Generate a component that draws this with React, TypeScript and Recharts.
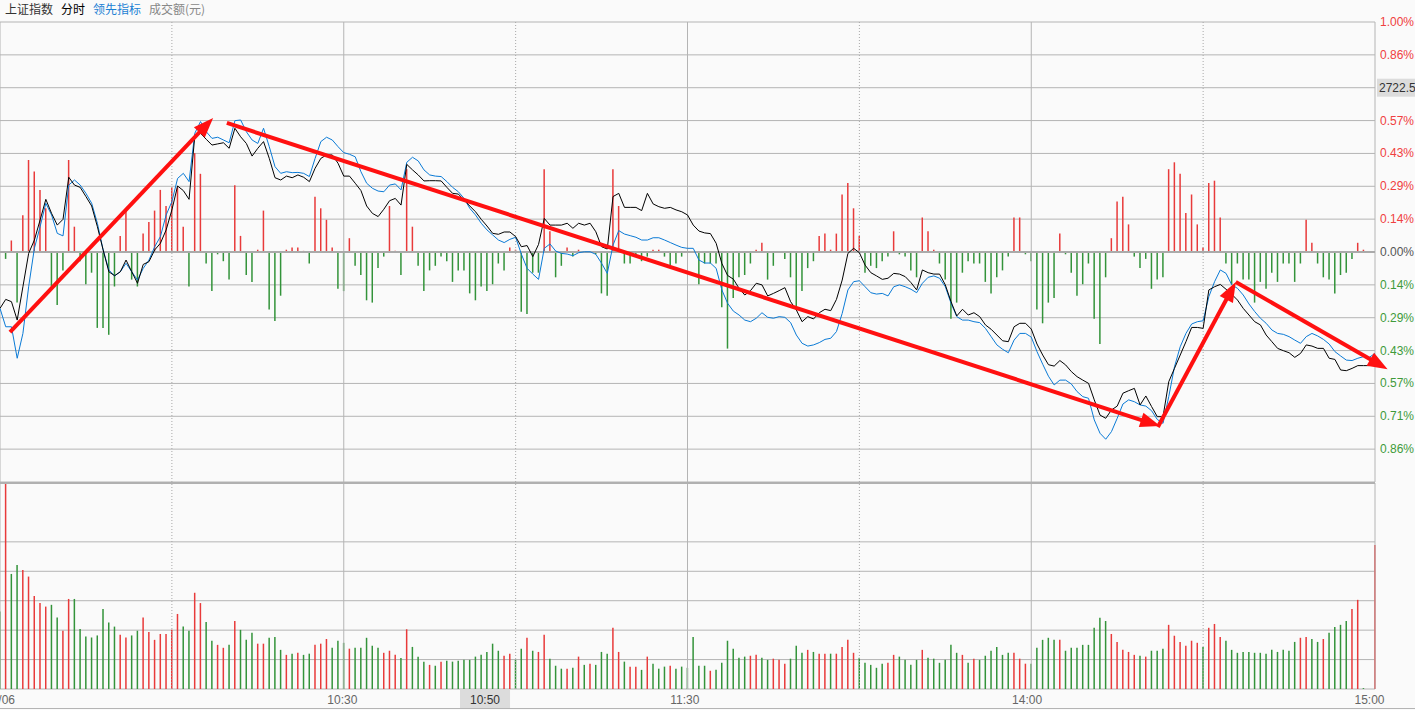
import React from 'react';
import {
    ComposedChart,
    BarChart,
    Bar,
    Line,
    XAxis,
    YAxis,
    CartesianGrid,
    ReferenceLine,
    Cell
} from 'recharts';

// price change vs previous close, in %, one point per minute (0 = 9:30, 240 = 15:00)
const price = [
    -0.245, -0.206, -0.216, -0.296, -0.151, -0.006, 0.052, 0.139, 0.229, 0.168,
    0.117, 0.142, 0.325, 0.291, 0.281, 0.241, 0.200, 0.110, 0.009, -0.086,
    -0.103, -0.086, -0.035, -0.086, -0.136, -0.054, -0.042, 0.009, 0.038, 0.096,
    0.183, 0.287, 0.267, 0.229, 0.504, 0.516, 0.490, 0.465, 0.470, 0.475,
    0.451, 0.538, 0.501, 0.472, 0.417, 0.451, 0.480, 0.407, 0.323, 0.313,
    0.330, 0.323, 0.335, 0.325, 0.306, 0.364, 0.407, 0.422, 0.422, 0.386,
    0.330, 0.330, 0.299, 0.267, 0.200, 0.168, 0.154, 0.186, 0.223, 0.233,
    0.204, 0.381, 0.357, 0.335, 0.309, 0.310, 0.310, 0.309, 0.281, 0.255,
    0.252, 0.226, 0.200, 0.175, 0.142, 0.113, 0.081, 0.077, 0.087, 0.087,
    0.067, 0.023, 0.028, -0.020, 0.033, 0.146, 0.117, 0.117, 0.117, 0.125,
    0.103, 0.125, 0.117, 0.125, 0.088, 0.023, 0.013, 0.241, 0.255, 0.194,
    0.194, 0.194, 0.180, 0.255, 0.209, 0.197, 0.190, 0.194, 0.183, 0.175,
    0.161, 0.117, 0.091, 0.083, 0.080, 0.038, -0.050, -0.102, -0.118, -0.158,
    -0.187, -0.168, -0.136, -0.143, -0.191, -0.180, -0.168, -0.155, -0.216, -0.252,
    -0.303, -0.281, -0.291, -0.264, -0.249, -0.255, -0.206, -0.122, -0.006, 0.016,
    -0.003, -0.057, -0.090, -0.104, -0.119, -0.114, -0.093, -0.096, -0.107, -0.133,
    -0.165, -0.078, -0.090, -0.096, -0.096, -0.143, -0.216, -0.278, -0.249, -0.274,
    -0.264, -0.281, -0.317, -0.336, -0.361, -0.386, -0.390, -0.325, -0.310, -0.310,
    -0.335, -0.400, -0.448, -0.490, -0.496, -0.472, -0.491, -0.520, -0.542, -0.557,
    -0.571, -0.643, -0.709, -0.723, -0.687, -0.670, -0.614, -0.603, -0.593, -0.665,
    -0.626, -0.672, -0.716, -0.716, -0.564, -0.506, -0.448, -0.390, -0.328, -0.328,
    -0.332, -0.165, -0.151, -0.141, -0.162, -0.184, -0.209, -0.245, -0.274, -0.303,
    -0.317, -0.361, -0.390, -0.419, -0.429, -0.438, -0.458, -0.441, -0.404, -0.409,
    -0.419, -0.419, -0.462, -0.467, -0.513, -0.516, -0.506, -0.494, -0.494, -0.494,
    -0.484
];

// 领先指标 (leading line), same units
const lead = [
    -0.245, -0.325, -0.325, -0.462, -0.354, -0.151, 0.016, 0.110, 0.212, 0.161,
    0.081, 0.070, 0.291, 0.313, 0.291, 0.255, 0.212, 0.125, 0.009, -0.078,
    -0.104, -0.086, -0.049, -0.086, -0.122, -0.071, -0.035, 0.023, 0.067, 0.161,
    0.219, 0.320, 0.342, 0.306, 0.516, 0.567, 0.523, 0.494, 0.499, 0.487,
    0.475, 0.571, 0.574, 0.523, 0.487, 0.472, 0.538, 0.458, 0.371, 0.342,
    0.349, 0.345, 0.346, 0.342, 0.328, 0.407, 0.480, 0.499, 0.487, 0.458,
    0.432, 0.425, 0.414, 0.349, 0.299, 0.277, 0.265, 0.262, 0.291, 0.296,
    0.270, 0.390, 0.412, 0.396, 0.357, 0.335, 0.330, 0.328, 0.306, 0.281,
    0.262, 0.233, 0.190, 0.161, 0.125, 0.096, 0.074, 0.052, 0.041, 0.055,
    0.064, -0.009, -0.071, -0.096, -0.119, 0.016, 0.035, 0.004, -0.006, -0.009,
    -0.016, -0.003, 0.001, 0.001, -0.010, -0.049, -0.093, 0.030, 0.093, 0.078,
    0.071, 0.064, 0.052, 0.052, 0.062, 0.062, 0.052, 0.041, 0.030, 0.020,
    0.016, 0.016, -0.035, -0.048, -0.048, -0.071, -0.165, -0.223, -0.257, -0.274,
    -0.296, -0.303, -0.288, -0.264, -0.284, -0.288, -0.281, -0.284, -0.307, -0.361,
    -0.397, -0.409, -0.404, -0.394, -0.380, -0.375, -0.346, -0.267, -0.165, -0.129,
    -0.125, -0.151, -0.177, -0.183, -0.180, -0.191, -0.151, -0.143, -0.151, -0.162,
    -0.177, -0.136, -0.110, -0.104, -0.114, -0.151, -0.223, -0.281, -0.296, -0.296,
    -0.303, -0.307, -0.332, -0.368, -0.404, -0.423, -0.438, -0.383, -0.354, -0.354,
    -0.370, -0.433, -0.488, -0.540, -0.578, -0.557, -0.557, -0.574, -0.607, -0.629,
    -0.636, -0.730, -0.788, -0.814, -0.781, -0.723, -0.661, -0.643, -0.651, -0.665,
    -0.670, -0.690, -0.728, -0.745, -0.629, -0.499, -0.412, -0.354, -0.313, -0.303,
    -0.299, -0.194, -0.129, -0.078, -0.093, -0.143, -0.158, -0.187, -0.226, -0.259,
    -0.288, -0.310, -0.339, -0.354, -0.358, -0.368, -0.383, -0.397, -0.368, -0.354,
    -0.365, -0.380, -0.400, -0.433, -0.452, -0.470, -0.472, -0.462, -0.455, -0.458,
    -0.441
];

// red/green bars around the zero line
const amp = [
    0, -0.03, 0.05, -0.22, 0.16, 0.40, 0.35, 0.27, 0.19, -0.15,
    -0.23, -0.08, 0.40, 0.11, -0.04, -0.14, -0.09, -0.33, -0.33, -0.36,
    -0.15, 0.07, 0.18, -0.12, -0.15, 0.08, 0.13, 0.18, 0.27, 0.20,
    0.28, 0.28, 0.11, -0.15, 0.43, 0.34, -0.05, -0.17, -0.01, -0.04,
    -0.12, 0.29, 0.07, -0.10, -0.13, 0.01, 0.18, -0.25, -0.30, -0.19,
    0.01, 0.02, 0.02, 0.005, -0.05, 0.24, 0.19, 0.14, 0.02, -0.16,
    -0.17, 0.06, -0.06, -0.10, -0.21, -0.22, -0.07, -0.02, 0.20, 0.005,
    -0.10, 0.36, 0.11, -0.06, -0.17, -0.08, -0.06, -0.02, -0.04, -0.13,
    -0.08, -0.08, -0.18, -0.21, -0.15, -0.17, -0.14, -0.05, -0.08, 0.02,
    0.01, -0.26, -0.27, -0.09, -0.09, 0.36, 0.09, -0.11, -0.06, 0.02,
    -0.02, 0.01, 0, 0, -0.01, -0.18, -0.19, 0.36, 0.20, -0.05,
    -0.05, -0.02, -0.04, -0.02, 0.01, 0.01, -0.02, -0.06, -0.05, -0.02,
    0, 0, -0.14, -0.05, -0.05, -0.05, -0.24, -0.42, -0.20, -0.11,
    -0.10, -0.05, 0.01, 0.04, -0.12, -0.06, 0, -0.03, -0.11, -0.24,
    -0.17, -0.07, -0.04, 0.07, 0.08, 0.01, 0.08, 0.25, 0.30, 0.19,
    0.07, -0.09, -0.06, -0.07, -0.04, -0.02, 0.09, -0.01, -0.02, -0.08,
    -0.11, 0.15, 0.09, 0.01, -0.05, -0.12, -0.29, -0.22, -0.09, -0.04,
    -0.05, -0.05, -0.13, -0.18, -0.11, -0.08, -0.02, 0.15, 0.15, -0.01,
    -0.04, -0.25, -0.31, -0.22, -0.20, 0.08, -0.01, -0.09, -0.19, -0.14,
    -0.05, -0.29, -0.40, -0.11, 0.06, 0.22, 0.24, 0.12, -0.02, -0.07,
    -0.03, -0.16, -0.12, -0.11, 0.36, 0.39, 0.34, 0.17, 0.25, 0.12,
    0.02, 0.30, 0.31, 0.15, -0.05, -0.14, -0.05, -0.12, -0.12, -0.22,
    -0.13, -0.16, -0.09, -0.13, -0.05, -0.05, -0.13, -0.05, 0.14, 0.04,
    -0.05, -0.11, -0.12, -0.18, -0.10, -0.09, -0.03, 0.04, 0.01, 0,
    0
];

// 成交额, in grid units of the lower panel (0..7)
const vol = [
    2.63, 7.0, 3.91, 4.21, 4.04, 3.82, 3.16, 2.92, 2.80, 2.86,
    2.43, 1.98, 3.06, 3.06, 2.04, 1.78, 1.75, 1.82, 2.72, 2.26,
    2.12, 1.84, 1.75, 1.82, 1.98, 2.43, 1.94, 1.67, 1.87, 1.87,
    2.01, 2.55, 2.12, 1.98, 3.27, 2.92, 2.28, 1.64, 1.50, 1.40,
    1.50, 2.31, 2.01, 1.67, 1.91, 1.54, 1.54, 1.74, 1.77, 1.33,
    1.16, 1.20, 1.23, 1.16, 1.20, 1.50, 1.54, 1.70, 1.40, 1.64,
    1.57, 1.37, 1.40, 1.40, 1.74, 1.47, 1.40, 1.23, 1.30, 1.16,
    1.05, 2.03, 1.43, 1.10, 0.93, 0.82, 0.79, 0.93, 0.96, 0.93,
    0.96, 0.99, 0.99, 1.10, 1.16, 1.26, 1.54, 1.30, 1.13, 1.20,
    0.99, 1.37, 1.74, 1.30, 1.26, 1.84, 1.03, 0.79, 0.69, 0.69,
    0.72, 1.10, 0.82, 0.86, 0.82, 1.26, 1.20, 2.08, 1.26, 0.93,
    0.76, 0.76, 0.65, 1.10, 0.86, 0.69, 0.76, 0.79, 0.69, 0.76,
    0.72, 1.77, 0.79, 0.79, 0.62, 0.65, 0.89, 1.64, 1.37, 1.06,
    1.10, 1.13, 1.16, 1.06, 0.99, 1.03, 0.99, 0.86, 1.03, 1.47,
    1.23, 1.33, 1.26, 1.20, 1.20, 1.20, 1.20, 1.43, 1.67, 1.23,
    1.06, 0.89, 0.82, 0.72, 0.86, 0.89, 1.16, 1.10, 0.99, 0.82,
    0.99, 1.33, 1.06, 1.03, 0.89, 0.99, 1.50, 1.23, 1.16, 0.89,
    1.03, 0.99, 1.13, 1.30, 1.43, 1.16, 1.23, 1.23, 1.03, 0.86,
    0.86, 1.40, 1.67, 1.74, 1.67, 1.67, 1.30, 1.40, 1.40, 1.50,
    1.50, 2.08, 2.42, 2.31, 1.87, 1.60, 1.33, 1.26, 1.16, 1.13,
    1.10, 1.30, 1.30, 1.37, 2.18, 1.81, 1.60, 1.47, 1.64, 1.57,
    1.43, 2.08, 2.21, 1.77, 1.64, 1.33, 1.23, 1.26, 1.26, 1.23,
    1.23, 1.20, 1.33, 1.26, 1.33, 1.30, 1.60, 1.74, 1.77, 1.70,
    1.60, 1.70, 1.91, 2.11, 2.18, 2.31, 2.72, 3.03, 0.03, 0,
    4.89
];

// r = up minute, g = down minute
const volDir =
    'grggrrrrrg' + 'grrggggggg' + 'grrggrrrrr' + 'rrggrrggrr' + 'grgggrrggg' +
    'rgrggrrrgg' + 'grgggggrrr' + 'grgggrgrgg' + 'ggggggggrr' + 'ggrgrrgggr' +
    'grgrgggrrg' + 'rrgrgggrgg' + 'ggggrggggg' + 'grrggrrrgg' + 'grgrrgrrrr' +
    'gggggrrggg' + 'grggggggrg' + 'rggggggrrr' + 'gggggrgggg' + 'ggggrrrrrg' +
    'rgggrrrrrr' + 'grrrgggggg' + 'gggggggrrg' + 'grggggrrgg' + 'r';

const pctTicks = [1, 0.8571, 0.7143, 0.5714, 0.4286, 0.2857, 0.1429, 0,
    -0.1429, -0.2857, -0.4286, -0.5714, -0.7143, -0.8571, -1];
const volTicks = [0, 1, 2, 3, 4, 5, 6, 7];
const timeTicks = [0, 60, 85, 120, 180, 240];
const timeLabels = ['01/06', '10:30', '10:50', '11:30', '14:00', '15:00'];
const solidLines = [0, 60, 120, 180, 240];
const dottedLines = [30, 90, 150, 210];

// crosshair labels shown on the axes
const crossTime = 85;
const crossPct = 0.7143;
const crossPrice = '2722.5';

// hand drawn trend arrows: [minute, pct]
const arrows = [
    { from: [1.75, -0.348], to: [37.2, 0.583] },
    { from: [39.6, 0.561], to: [202.5, -0.757] },
    { from: [202.1, -0.761], to: [215.7, -0.13] },
    { from: [215.7, -0.13], to: [242.2, -0.51] },
];

const RED = '#e83a3a';
const GREEN = '#33933a';
const BLUE = '#0a7ad6';
const GRID = '#b4b4b4';
const FONT = 'Arial, "Liberation Sans", "Noto Sans CJK SC", sans-serif';

const rows = price.map((p, i) => ({
    t: i,
    price: p,
    lead: lead[i],
    amp: amp[i],
    vol: vol[i],
    up: volDir[i] === 'r',
}));

const renderPctTick = (props: any) => {
    const { x, y, payload } = props;
    const v = payload.value;
    if (v <= -0.99) return <g />;
    if (v === crossPct) {
        return (
            <g>
                <rect x={x - 3} y={y - 9} width={40} height={18} fill="#dcdcdc" />
                <text x={x - 1} y={y + 4} fill="#333" fontSize={12}>{crossPrice}</text>
            </g>
        );
    }
    const fill = v > 0 ? '#f04040' : v < 0 ? '#3f9a3a' : '#555';
    return <text x={x} y={y + 4} fill={fill} fontSize={12}>{Math.abs(v).toFixed(2)}%</text>;
};

const renderTimeTick = (props: any) => {
    const { x, y, payload } = props;
    const label = timeLabels[timeTicks.indexOf(payload.value)];
    const cx = x * 0.996;
    if (payload.value === crossTime) {
        return (
            <g>
                <rect x={cx - 25} y={y + 1} width={50} height={18} fill="#dcdcdc" />
                <text x={cx} y={y + 15} textAnchor="middle" fill="#333" fontSize={12}>{label}</text>
            </g>
        );
    }
    return <text x={cx} y={y + 15} textAnchor="middle" fill="#666" fontSize={12}>{label}</text>;
};

const ArrowShape = (p: any) => {
    const { x1, y1, x2, y2 } = p;
    const dx = x2 - x1;
    const dy = y2 - y1;
    const len = Math.hypot(dx, dy);
    const ux = dx / len;
    const uy = dy / len;
    const hl = 20;
    const hw = 7.5;
    const bx = x2 - ux * hl;
    const by = y2 - uy * hl;
    return (
        <g>
            <line x1={x1} y1={y1} x2={bx + ux * 2} y2={by + uy * 2} stroke="#ff1010" strokeWidth={4} />
            <polygon
                points={`${x2},${y2} ${bx - uy * hw},${by + ux * hw} ${bx + uy * hw},${by - ux * hw}`}
                fill="#ff1010"
            />
        </g>
    );
};

const vLines = () => [
    ...dottedLines.map((x) => (
        <ReferenceLine key={`d${x}`} x={x} stroke="#a8a8a8" strokeDasharray="1 2" />
    )),
    ...solidLines.map((x) => <ReferenceLine key={`s${x}`} x={x} stroke={GRID} />),
];

const App: React.FC = () => {
    return (
        <div
            style={{
                position: 'fixed',
                left: 0,
                top: 0,
                width: 1415,
                height: 710,
                background: '#fafafa',
                overflow: 'hidden',
                fontFamily: FONT,
            }}
        >
            <div style={{ position: 'absolute', top: 2, left: 5, fontSize: 12, lineHeight: '14px', whiteSpace: 'nowrap', fontFamily: '"Noto Sans CJK SC", sans-serif' }}>
                <span style={{ color: '#333' }}>上证指数</span>
                <span style={{ color: '#000', marginLeft: 8 }}>分时</span>
                <span style={{ color: '#1a7fd4', marginLeft: 8 }}>领先指标</span>
                <span style={{ color: '#888', marginLeft: 8 }}>成交额(元)</span>
            </div>

            <div style={{ position: 'absolute', top: 0, left: 0 }}>
                <ComposedChart width={1415} height={490} data={rows} margin={{ top: 22, right: 0, bottom: 8, left: 0 }}>
                    <CartesianGrid vertical={false} stroke={GRID} />
                    <XAxis type="number" dataKey="t" domain={[0, 240]} hide />
                    <YAxis
                        orientation="right"
                        domain={[-1, 1]}
                        ticks={pctTicks}
                        interval={0}
                        width={40}
                        axisLine={false}
                        tickLine={false}
                        tickSize={0}
                        tickMargin={5}
                        tick={renderPctTick}
                    />
                    {vLines()}
                    <ReferenceLine y={0} stroke="#aaaaaa" strokeWidth={2} />
                    <Bar dataKey="amp" barSize={1.5} isAnimationActive={false}>
                        {rows.map((r, i) => (
                            <Cell key={`a-${i}`} fill={r.amp >= 0 ? RED : GREEN} />
                        ))}
                    </Bar>
                    <Line type="linear" dataKey="lead" stroke={BLUE} strokeWidth={1} dot={false} isAnimationActive={false} />
                    <Line type="linear" dataKey="price" stroke="#000" strokeWidth={1} dot={false} isAnimationActive={false} />
                    {arrows.map((a, i) => (
                        <ReferenceLine
                            key={`arrow-${i}`}
                            segment={[{ x: a.from[0], y: a.from[1] }, { x: a.to[0], y: a.to[1] }]}
                            ifOverflow="visible"
                            shape={ArrowShape}
                        />
                    ))}
                </ComposedChart>
            </div>

            <div style={{ position: 'absolute', top: 482, left: 0 }}>
                <BarChart width={1415} height={228} data={rows} margin={{ top: 1, right: 40, bottom: 0, left: 0 }}>
                    <CartesianGrid vertical={false} stroke={GRID} />
                    <XAxis
                        type="number"
                        dataKey="t"
                        domain={[0, 240]}
                        ticks={timeTicks}
                        interval={0}
                        height={21}
                        axisLine={false}
                        tickLine={false}
                        tickSize={0}
                        tickMargin={0}
                        tick={renderTimeTick}
                    />
                    <YAxis domain={[0, 7]} ticks={volTicks} hide />
                    {vLines()}
                    <ReferenceLine y={7} stroke="#b0b0b0" strokeWidth={2} />
                    <Bar dataKey="vol" barSize={1.5} isAnimationActive={false}>
                        {rows.map((r, i) => (
                            <Cell key={`v-${i}`} fill={r.up ? RED : GREEN} />
                        ))}
                    </Bar>
                </BarChart>
            </div>

            <div style={{ position: 'absolute', top: 708, left: 0, width: 1415, height: 1, background: GRID }} />
        </div>
    );
};

export default App;
